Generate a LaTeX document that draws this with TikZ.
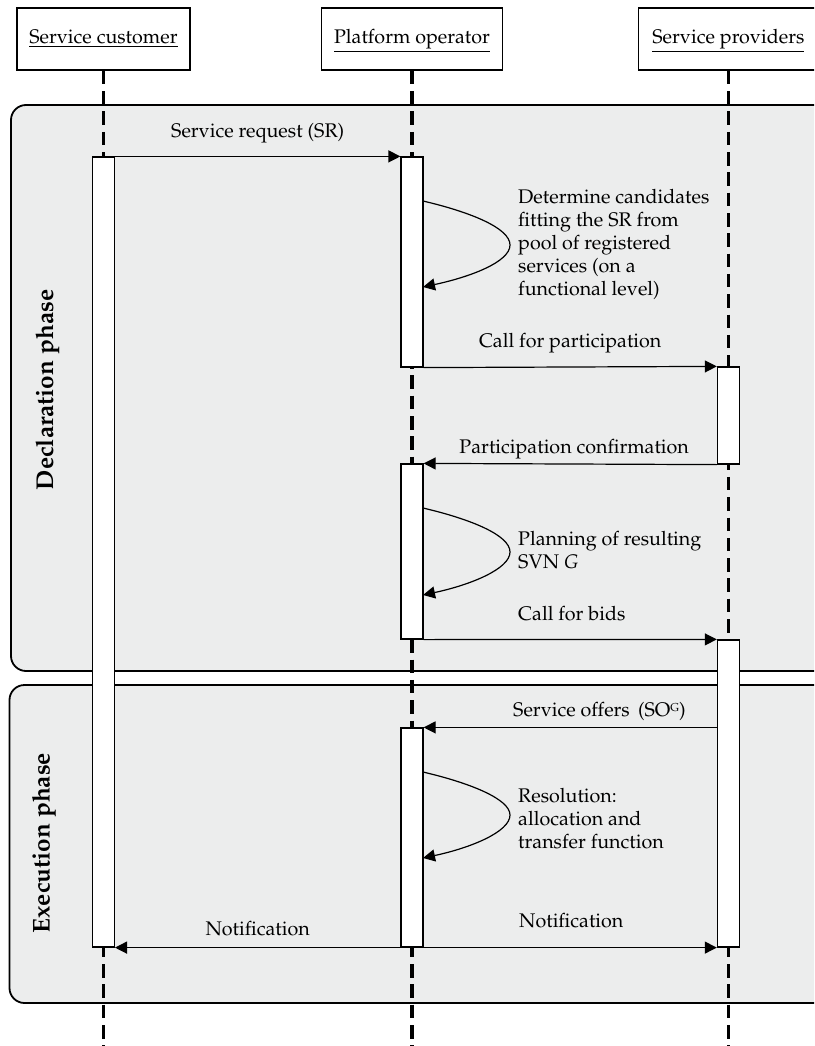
\documentclass[tikz,border=0pt]{standalone}
\usepackage[T1]{fontenc}
\usepackage{mathpazo}
\usetikzlibrary{arrows.meta}
\definecolor{phasefill}{RGB}{236,237,237}

\begin{document}
\begin{tikzpicture}[x=1pt,y=-1pt,
  every node/.style={inner sep=0pt, font=\fontsize{19.7}{23}\selectfont},
  header/.style={draw, line width=1.8pt, fill=white, minimum height=62pt,
                 text height=14pt, text depth=5pt},
  phase/.style={draw, line width=1.8pt, fill=phasefill, rounded corners=15pt},
  lifeline/.style={line width=3.2pt, dash pattern=on 13.5pt off 6.8pt},
  actbar/.style={draw, line width=1.2pt, fill=white, minimum width=22pt},
  msg/.style={line width=1.2pt, -{Triangle[length=12pt,width=12pt]}},
  phaselabel/.style={rotate=90, anchor=base,
                     font=\fontsize{24.3}{28}\selectfont\bfseries},
  note/.style={anchor=base west},
]
\path[use as bounding box] (0,0) rectangle (814,1046);
\clip (0,0) rectangle (814,1046);

% phases
\draw[phase] (11,105) rectangle (840,671);
\draw[phase] (9.5,685) rectangle (840,1003);
\node[phaselabel] (pdecl) at (53,390) {Declaration phase};
\node[phaselabel] (pexec) at (49.5,843) {Execution phase};

% participants
\node[header, minimum width=173pt] (hc) at (103.4,39) {\underline{Service customer}};
\node[header, minimum width=181pt] (ho) at (412,39) {\underline{Platform operator}};
\node[header, minimum width=180pt] (hp) at (728.4,39) {\underline{Service providers}};

% lifelines
\coordinate (floor) at (0,1046);
\draw[lifeline] (hc.south) -- (hc.south |- floor);
\draw[lifeline] (ho.south) -- (ho.south |- floor);
\draw[lifeline] (hp.south) -- (hp.south |- floor);

% activation bars
\node[actbar, minimum height=790pt] (cb)  at (103.4,552) {};
\node[actbar, minimum height=210pt] (ob1) at (412,262) {};
\node[actbar, minimum height=175pt] (ob2) at (412,551.5) {};
\node[actbar, minimum height=219pt] (ob3) at (412,837.5) {};
\node[actbar, minimum height=97pt]  (pb1) at (728.4,415.5) {};
\node[actbar, minimum height=307pt] (pb2) at (728.4,793.5) {};

% messages
\draw[msg] (cb.north east) -- node[midway, anchor=base, yshift=19pt] (lsr) {Service request (SR)} (ob1.north west);
\draw[msg] (ob1.south east) -- node[midway, anchor=base, yshift=20pt] (lcp) {Call for participation} (pb1.north west);
\draw[msg] (pb1.south west) -- node[midway, anchor=base, yshift=11pt, xshift=4pt] (lpc) {Participation confirmation} (ob2.north east);
\draw[msg] (ob2.south east) -- node[pos=0, anchor=base west, xshift=94pt, yshift=19pt] (lcb) {Call for bids} (pb2.north west);
\draw[msg] (pb2.west |- ob3.north) -- node[pos=1, anchor=base west, xshift=89pt, yshift=11pt] (lso) {Service offers\,\ (SO\raisebox{4.6pt}{\fontsize{11.5}{12}\selectfont G})} (ob3.north east);
\draw[msg] (ob3.south east) -- node[pos=0, anchor=base west, xshift=95pt, yshift=20pt] (lnr) {Notification} (pb2.south west);
\draw[msg] (ob3.south west) -- node[midway, anchor=base, yshift=12pt] (lnl) {Notification} (cb.south east);

% internal steps of the platform operator
\coordinate (s1a) at (423,201);
\coordinate (s1b) at (423,287);
\draw[msg] (s1a) .. controls (470,212) and (510,228) .. (510,245)
                 .. controls (510,262) and (470,277) .. (s1b);
\node[note] (t1) at (518,203) {\begin{tabular}[t]{@{}l@{}}Determine candidates\\fitting the SR from\\pool of registered\\services (on a\\functional level)\end{tabular}};

\coordinate (s2a) at (423,508);
\coordinate (s2b) at (423,595);
\draw[msg] (s2a) .. controls (470,519) and (510,535) .. (510,552)
                 .. controls (510,569) and (470,585) .. (s2b);
\node[note] (t2) at (518,545) {\begin{tabular}[t]{@{}l@{}}Planning of resulting\\SVN \textit{G}\end{tabular}};

\coordinate (s3a) at (423,772);
\coordinate (s3b) at (423,858);
\draw[msg] (s3a) .. controls (470,783) and (510,799) .. (510,815)
                 .. controls (510,832) and (470,848) .. (s3b);
\node[note] (t3) at (518,802) {\begin{tabular}[t]{@{}l@{}}Resolution:\\allocation and\\transfer function\end{tabular}};
\end{tikzpicture}
\end{document}
